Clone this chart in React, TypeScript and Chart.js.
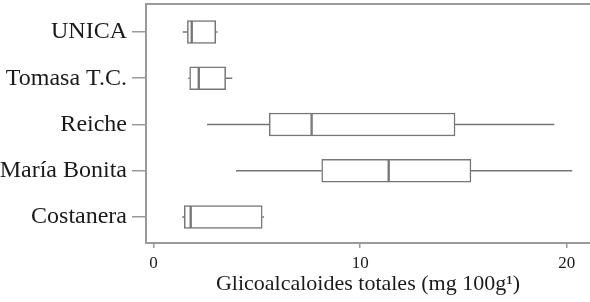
import React, { useEffect, useRef } from "react";
import { Chart, registerables } from "chart.js";

Chart.register(...registerables);

const categories = ["UNICA", "Tomasa T.C.", "Reiche", "María Bonita", "Costanera"];
const whiskerLow = [1.41, 1.68, 2.59, 3.99, 1.39];
const q1 = [1.64, 1.75, 5.6, 8.14, 1.49];
const median = [1.85, 2.19, 7.65, 11.38, 1.8];
const q3 = [3.01, 3.49, 14.59, 15.36, 5.26];
const whiskerHigh = [3.1, 3.81, 19.39, 20.26, 5.35];
const xTicks = [0, 10, 20];
const xTitle = "Glicoalcaloides totales (mg 100g¹)";

const LINE = "#767676";
const AXIS = "#9a9a9a";
const FONT = "'Liberation Serif', 'Times New Roman', serif";

const whiskerPlugin = {
  id: "whiskers",
  beforeDatasetsDraw(chart: any) {
    const { ctx, scales } = chart;
    const xs = scales.x;
    const ys = scales.y;
    ctx.save();
    ctx.strokeStyle = LINE;
    ctx.lineWidth = 1.5;
    categories.forEach((_, i) => {
      const y = ys.getPixelForValue(i);
      ctx.beginPath();
      ctx.moveTo(xs.getPixelForValue(whiskerLow[i]), y);
      ctx.lineTo(xs.getPixelForValue(q1[i]), y);
      ctx.moveTo(xs.getPixelForValue(q3[i]), y);
      ctx.lineTo(xs.getPixelForValue(whiskerHigh[i]), y);
      ctx.stroke();
    });
    ctx.restore();
  },
  afterDraw(chart: any) {
    const { ctx, chartArea } = chart;
    ctx.save();
    ctx.strokeStyle = AXIS;
    ctx.lineWidth = 2;
    ctx.beginPath();
    ctx.moveTo(chartArea.left - 1, chartArea.top);
    ctx.lineTo(chartArea.right, chartArea.top);
    ctx.stroke();
    ctx.restore();
  },
};

export default function App() {
  const ref = useRef<HTMLCanvasElement>(null);
  useEffect(() => {
    document.body.style.margin = "0";
    const boxStyle = {
      backgroundColor: "#ffffff",
      borderColor: LINE,
      borderWidth: 1.5,
      borderSkipped: false as any,
      barThickness: 23,
      grouped: false,
    };
    const chart = new Chart(ref.current!, {
      type: "bar",
      data: {
        datasets: [
          {
            ...boxStyle,
            label: "lower",
            data: categories.map((_, i) => ({ y: i, x: [q1[i], median[i]] })) as any,
          },
          {
            ...boxStyle,
            label: "upper",
            data: categories.map((_, i) => ({ y: i, x: [median[i], q3[i]] })) as any,
          },
        ],
      },
      options: {
        indexAxis: "y",
        animation: false,
        responsive: false,
        maintainAspectRatio: false,
        layout: { padding: { top: 4, right: 0, left: 0, bottom: 0 } },
        plugins: { legend: { display: false }, tooltip: { enabled: false } },
        scales: {
          x: {
            type: "linear",
            offset: false,
            min: -0.363,
            max: 21.12,
            afterBuildTicks: (s: any) => {
              s.ticks = xTicks.map((v) => ({ value: v }));
            },
            afterFit: (s: any) => {
              s.height = 59;
              s.paddingLeft = 0;
              s.paddingRight = 0;
            },
            grid: { drawOnChartArea: false, drawTicks: true, tickLength: 5, color: AXIS, lineWidth: 1.5, offset: false },
            border: { display: true, color: AXIS, width: 2 },
            ticks: { color: "#1a1a1a", font: { family: FONT, size: 17 }, padding: 5, maxRotation: 0 },
            title: {
              display: true,
              text: xTitle,
              color: "#1a1a1a",
              font: { family: FONT, size: 22 },
              padding: { top: 0, bottom: 5 },
            },
          },
          y: {
            type: "linear",
            offset: false,
            reverse: true,
            min: -0.605,
            max: 4.562,
            afterBuildTicks: (s: any) => {
              s.ticks = categories.map((_, i) => ({ value: i }));
            },
            afterFit: (s: any) => {
              s.width = 146;
              s.paddingTop = 0;
              s.paddingBottom = 0;
            },
            grid: { drawOnChartArea: false, drawTicks: true, tickLength: 14, color: AXIS, lineWidth: 1.5, offset: false },
            border: { display: true, color: AXIS, width: 2 },
            ticks: {
              color: "#1a1a1a",
              font: { family: FONT, size: 24 },
              padding: 5,
              callback: (v: any) => categories[v] ?? "",
            },
          },
        },
      },
      plugins: [whiskerPlugin],
    });
    return () => chart.destroy();
  }, []);
  return (
    <div style={{ position: "absolute", left: 0, top: 0, width: 590, height: 302, background: "#fff" }}>
      <canvas ref={ref} width={590} height={302} style={{ width: 590, height: 302 }} />
    </div>
  );
}
